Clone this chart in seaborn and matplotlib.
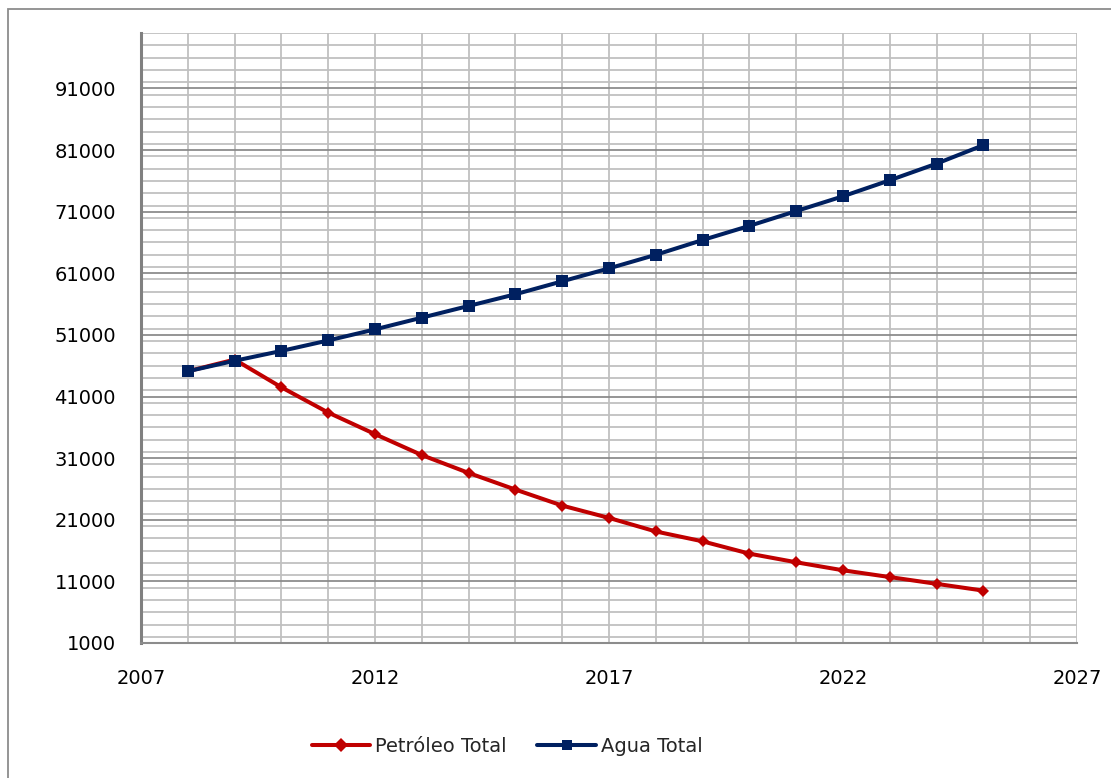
import matplotlib
matplotlib.use("Agg")
import matplotlib.pyplot as plt
from matplotlib.patches import Rectangle
from matplotlib.ticker import MultipleLocator
import seaborn as sns
import pandas as pd

# data
years = list(range(2008, 2026))
petroleo = [45100, 47000, 42500, 38400, 34900, 31500, 28600, 25900, 23300, 21300,
            19100, 17500, 15500, 14100, 12800, 11700, 10600, 9500]
agua = [45100, 46800, 48400, 50100, 51900, 53800, 55700, 57600, 59700, 61800,
        64000, 66400, 68700, 71100, 73500, 76100, 78800, 81800]
series_names = ["Petróleo Total", "Agua Total"]

df = pd.concat([
    pd.DataFrame({"Año": years, "Valor": petroleo, "Serie": series_names[0]}),
    pd.DataFrame({"Año": years, "Valor": agua, "Serie": series_names[1]}),
])

sns.set_style("white")
plt.rcParams['font.family'] = ['DejaVu Sans']

fig = plt.figure(figsize=(11.11, 7.78), dpi=100)
ax = fig.add_axes([141 / 1111, 135 / 778, (1077 - 141) / 1111, (643 - 33) / 778])

sns.lineplot(data=df, x="Año", y="Valor", hue="Serie", style="Serie",
             hue_order=series_names, style_order=series_names,
             palette={"Petróleo Total": "#C00000", "Agua Total": "#002060"},
             markers={"Petróleo Total": "D", "Agua Total": "s"},
             dashes=False, linewidth=2.9, markersize=7, markeredgewidth=0,
             ax=ax, legend=True)
# marker sizes differ a bit
for line, ms in zip(ax.get_lines(), [6, 8]):
    line.set_markersize(ms)

ax.set_xlim(2007, 2027)
ax.set_ylim(1000, 100000)
ax.set_xticks([2007, 2012, 2017, 2022, 2027])
ax.set_yticks(list(range(1000, 100000, 10000)))
ax.xaxis.set_minor_locator(MultipleLocator(1))
ax.yaxis.set_minor_locator(MultipleLocator(2000))

ax.grid(which="minor", axis="both", color="#c0c0c0", linewidth=1.3)
ax.grid(which="major", axis="x", color="#c0c0c0", linewidth=1.3)
ax.grid(which="major", axis="y", color="#8c8c8c", linewidth=1.3)
ax.set_axisbelow(True)

for s in ["top", "right"]:
    ax.spines[s].set_visible(False)
ax.spines["left"].set_color("#808080")
ax.spines["left"].set_linewidth(2.2)
ax.spines["bottom"].set_color("#8c8c8c")
ax.spines["bottom"].set_linewidth(1.5)

ax.tick_params(axis="both", which="major", direction="out", length=6, width=1.3,
               color="#808080", labelsize=14, labelcolor="black")
ax.tick_params(axis="y", which="major", pad=12)
ax.tick_params(axis="x", which="major", pad=13)
ax.tick_params(which="minor", length=0)
ax.set_xlabel("")
ax.set_ylabel("")

handles, labels = ax.get_legend_handles_labels()
ax.legend(handles, labels, loc="center", bbox_to_anchor=(507 / 1111, 32 / 778),
          bbox_transform=fig.transFigure, ncol=2, frameon=False, fontsize=14,
          handlelength=3.0, columnspacing=1.6, handletextpad=0.25)

# chart frame: only left and top edges fall inside the picture
fig.patches.append(Rectangle((8 / 1111, -20 / 778), 1130 / 1111, 789 / 778,
                             transform=fig.transFigure, fill=False,
                             edgecolor="#8c8c8c", linewidth=1.3))

fig.savefig("out.png", dpi=100)
